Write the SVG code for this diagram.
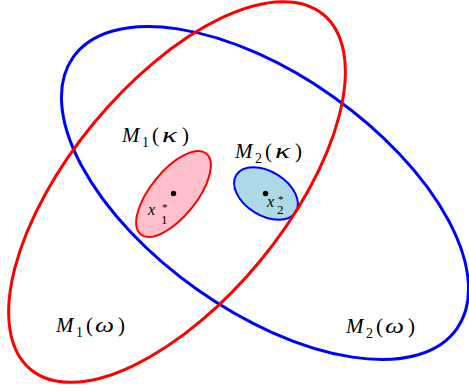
<svg xmlns="http://www.w3.org/2000/svg" width="469" height="392" viewBox="0 0 469 392">
<style>
.big{fill:none;stroke-width:3}
.small{stroke-width:2}
.red{stroke:#ff0000}
.blue{stroke:#0000ff}
.lbl{font-family:"Liberation Serif","DejaVu Serif",serif;fill:#000}
.it{font-style:italic}
.dot{fill:#000}
</style>
<rect width="469" height="392" fill="#fff"/>
<g id="M1kappa">
<ellipse cx="173.5" cy="194" rx="52" ry="23" transform="rotate(-51 173.5 194)" class="small red" fill="#ffc0cb"/>
<circle cx="173.5" cy="193.5" r="2.7" class="dot"/>
<text class="lbl it" x="148" y="215" font-size="16">x</text>
<text class="lbl" x="162" y="210.5" font-size="11">*</text>
<text class="lbl" x="161" y="224" font-size="13">1</text>
</g>
<g id="M2kappa">
<ellipse cx="266" cy="193.5" rx="35" ry="22" transform="rotate(32 266 193.5)" class="small blue" fill="#add8e6"/>
<circle cx="265.5" cy="193.5" r="2.7" class="dot"/>
<text class="lbl it" x="267" y="207" font-size="16">x</text>
<text class="lbl" x="278" y="202.5" font-size="11">*</text>
<text class="lbl" x="277" y="213.5" font-size="13">2</text>
</g>
<g id="M2omega">
<ellipse cx="265" cy="193" rx="235" ry="118" transform="rotate(35.3 265 193)" class="big blue"/>
</g>
<g id="M1omega">
<ellipse cx="177" cy="192" rx="230" ry="108" transform="rotate(-50.5 177 192)" class="big red"/>
</g>
<g id="labels">
<text class="lbl" font-size="21" y="142"><tspan class="it" x="122">M</tspan><tspan x="142" y="147" font-size="14">1</tspan><tspan x="152" y="142">(</tspan><tspan class="it" x="162" textLength="15" lengthAdjust="spacingAndGlyphs">κ</tspan><tspan x="182">)</tspan></text>
<text class="lbl" font-size="21" y="158"><tspan class="it" x="235">M</tspan><tspan x="255" y="163" font-size="14">2</tspan><tspan x="265" y="158">(</tspan><tspan class="it" x="275" textLength="15" lengthAdjust="spacingAndGlyphs">κ</tspan><tspan x="295">)</tspan></text>
<text class="lbl" font-size="21" y="332"><tspan class="it" x="56">M</tspan><tspan x="76" y="337" font-size="14">1</tspan><tspan x="86" y="332">(</tspan><tspan class="it" x="95" textLength="19" lengthAdjust="spacingAndGlyphs">ω</tspan><tspan x="118">)</tspan></text>
<text class="lbl" font-size="21" y="333"><tspan class="it" x="346">M</tspan><tspan x="366" y="338" font-size="14">2</tspan><tspan x="376" y="333">(</tspan><tspan class="it" x="385" textLength="19" lengthAdjust="spacingAndGlyphs">ω</tspan><tspan x="408">)</tspan></text>
</g>
</svg>
